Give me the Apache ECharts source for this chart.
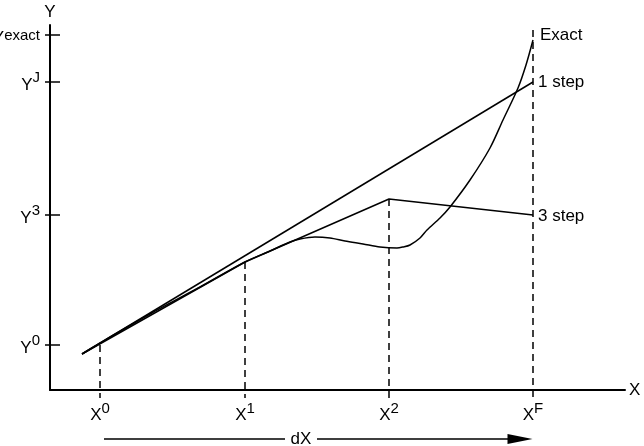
<!DOCTYPE html>
<html><head><meta charset="utf-8">
<script src="https://cdn.jsdelivr.net/npm/echarts@6/dist/echarts.min.js"></script>
<style>html,body{margin:0;padding:0;background:#fff}#c{width:644px;height:446px}</style>
</head><body><div id="c"></div>
<script>
// Tick positions (abstract axis units) and their labels
const xTickValues = [50, 195, 339, 483];
const xTickNames = ['0', '1', '2', 'F'];
const yTickValues = [45, 175, 308, 355];
const yTickNames = ['0', '3', 'J', 'exact'];

// Exact solution curve
const exactX = [32, 50, 100, 150, 195, 220, 240, 250, 265, 280, 295, 313, 330, 347, 353, 360, 370, 377, 390, 400, 420, 440, 453, 468, 476, 483];
const exactY = [36, 47, 76, 103, 128, 139, 148, 151, 153, 152, 149, 146, 143, 142, 143, 145, 152, 160, 172, 183, 210, 242, 270, 302, 325, 350];
// One-step estimate
const oneStepX = [32, 483];
const oneStepY = [36, 308];
// Three-step estimate
const threeStepX = [32, 195, 339, 483];
const threeStepY = [36, 128, 191, 175];
// Dashed guide tops at each X tick
const guideTopY = [45, 128, 191, 360];
const guideBottomY = -8;
// dX arrow (start, label position, end) along a level below the axis
const dxX = [54, 251, 470];
const dxLevel = -49;

const FONT = "'Liberation Sans', Arial, sans-serif";
const zip = (xs, ys) => xs.map((x, i) => [x, ys[i]]);

const chart = echarts.init(document.getElementById('c'), null, {renderer: 'canvas'});
const supRich = {
  b: {fontSize: 17, fontFamily: FONT, color: '#000', lineHeight: 23, verticalAlign: 'bottom'},
  s: {fontSize: 15, fontFamily: FONT, color: '#000', lineHeight: 15, verticalAlign: 'top'},
  e: {fontSize: 15, fontFamily: FONT, color: '#000', lineHeight: 15, verticalAlign: 'top', padding: [5, 0, 0, 0]}
};
const supLabel = (base, sup) => '{b|' + base + '}{' + (sup.length > 1 ? 'e' : 's') + '|' + sup + '}';

const guideSeries = xTickValues.map((x, i) => ({
  type: 'line', clip: false, silent: true, symbol: 'none',
  data: [[x, guideTopY[i]], [x, guideBottomY]],
  lineStyle: {color: '#000', width: 1.5, type: [7, 5]}
}));

const option = {
  animation: false,
  grid: {left: 50, right: 19, top: 25, bottom: 56, containLabel: false, outerBoundsMode: 'none'},
  xAxis: {
    type: 'value', min: 0, max: 575,
    name: 'X', nameLocation: 'end', nameGap: 4,
    nameTextStyle: {fontSize: 17, fontFamily: FONT, color: '#000'},
    axisLine: {show: true, lineStyle: {color: '#000', width: 2}},
    axisTick: {show: false},
    splitLine: {show: false},
    axisLabel: {
      customValues: xTickValues, margin: 11,
      formatter: v => supLabel('X', xTickNames[xTickValues.indexOf(v)]),
      rich: supRich
    }
  },
  yAxis: [{
    type: 'value', min: 0, max: 365,
    name: 'Y', nameLocation: 'end', nameGap: 4,
    nameTextStyle: {fontSize: 17, fontFamily: FONT, color: '#000', align: 'center'},
    axisLine: {show: true, lineStyle: {color: '#000', width: 2}},
    axisTick: {show: true, customValues: yTickValues, length: 5, lineStyle: {color: '#000', width: 1.5}},
    splitLine: {show: false},
    axisLabel: {
      customValues: yTickValues, margin: 10,
      formatter: v => supLabel('Y', yTickNames[yTickValues.indexOf(v)]),
      rich: supRich
    }
  }, {
    type: 'value', min: 0, max: 365, position: 'left', offset: 0,
    axisLine: {show: false},
    axisTick: {show: true, inside: true, customValues: yTickValues, length: 10, lineStyle: {color: '#000', width: 1.5}},
    axisLabel: {show: false},
    splitLine: {show: false}
  }],
  series: [
    ...guideSeries,
    {
      name: 'Exact', type: 'line', clip: false, symbol: 'none', smooth: 0.3,
      data: zip(exactX, exactY),
      lineStyle: {color: '#000', width: 1.5},
      endLabel: {show: true, formatter: 'Exact', distance: 7, offset: [0, -5], fontSize: 17, fontFamily: FONT, color: '#000'}
    },
    {
      name: '1 step', type: 'line', clip: false, symbol: 'none',
      data: zip(oneStepX, oneStepY),
      lineStyle: {color: '#000', width: 1.5},
      endLabel: {show: true, formatter: '1 step', distance: 5, fontSize: 17, fontFamily: FONT, color: '#000'}
    },
    {
      name: '3 step', type: 'line', clip: false, symbol: 'none',
      data: zip(threeStepX, threeStepY),
      lineStyle: {color: '#000', width: 1.5},
      endLabel: {show: true, formatter: '3 step', distance: 5, offset: [0, 1], fontSize: 17, fontFamily: FONT, color: '#000'}
    },
    {
      name: 'dX', type: 'line', clip: false, silent: true, showSymbol: true, symbol: 'none',
      lineStyle: {color: '#000', width: 1.5},
      z: 3,
      data: [
        {value: [dxX[0], dxLevel]},
        {value: [dxX[1], dxLevel], symbol: 'rect', symbolSize: [32, 16], itemStyle: {color: '#fff', borderWidth: 0},
          label: {show: true, position: 'inside', formatter: 'dX', fontSize: 17, fontFamily: FONT, color: '#000'}},
        {value: [dxX[2], dxLevel], symbol: 'triangle', symbolSize: [10, 25], symbolRotate: -90,
          itemStyle: {color: '#000'}}
      ]
    }
  ]
};
chart.setOption(option);
</script></body></html>
